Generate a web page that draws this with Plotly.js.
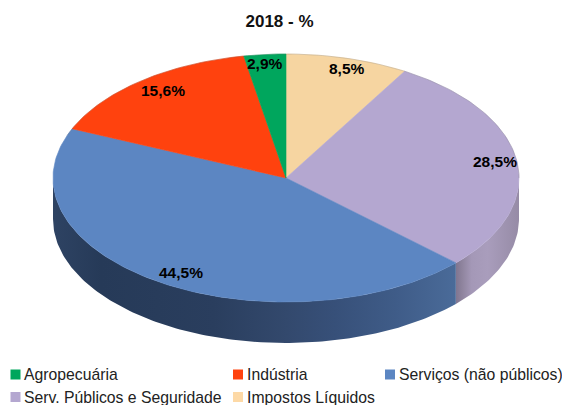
<!DOCTYPE html>
<html lang="pt">
<head>
<meta charset="utf-8">
<script src="https://cdn.plot.ly/plotly-3.0.1.min.js"></script>
<style>html,body{margin:0;padding:0;background:#fff}#chart{width:562px;height:405px}</style>
</head>
<body>
<div id="chart"></div>
<script>
// Data, clockwise from the top of the pie
const categories = ['Impostos Líquidos', 'Serv. Públicos e Seguridade', 'Serviços (não públicos)', 'Indústria', 'Agropecuária'];
const shares = [8.5, 28.5, 44.5, 15.6, 2.9];
const shareLabels = ['8,5%', '28,5%', '44,5%', '15,6%', '2,9%'];
const sliceColors = ['#f6d5a1', '#b4a7d0', '#5c86c2', '#ff420e', '#00a65d'];
const labelX = [347, 495, 181, 163, 265];
const labelY = [68, 161, 272, 90, 63];

// Legend reading order
const legendNames = ['Agropecuária', 'Indústria', 'Serviços (não públicos)', 'Serv. Públicos e Seguridade', 'Impostos Líquidos'];
const legendColors = ['#00a65d', '#ff420e', '#5c86c2', '#b4a7d0', '#fdd9a6'];
const legendX = [15.5, 238, 390, 15.5, 238];
const legendY = [374.5, 374.5, 374.5, 397, 397];

// Pie geometry, in pixel-scaled axis units
const cx = 286, cy = 178, rx = 233, ry = 124, depth = 41;
const pt = deg => {
  const t = deg * Math.PI / 180;
  return [cx + rx * Math.sin(t), cy - ry * Math.cos(t)];
};
function arc(a0, a1, dy) {
  const xs = [], ys = [];
  const n = Math.max(2, Math.ceil(Math.abs(a1 - a0)));
  for (let i = 0; i <= n; i++) {
    const p = pt(a0 + (a1 - a0) * i / n);
    xs.push(p[0]); ys.push(p[1] + dy);
  }
  return [xs, ys];
}

const edges = [0];
shares.forEach(v => edges.push(edges[edges.length - 1] + v * 3.6));

function wall(name, a0, a1, scale) {
  const top = arc(a0, a1, 0), bot = arc(a1, a0, depth);
  return {
    type: 'scatter', mode: 'lines', name, showlegend: false, hoverinfo: 'skip',
    x: top[0].concat(bot[0]), y: top[1].concat(bot[1]),
    fill: 'toself', line: {width: 0},
    fillcolor: scale[0][1],
    fillgradient: {type: 'horizontal', colorscale: scale}
  };
}

const traces = [
  wall('Serv. Públicos e Seguridade (lateral)', 90, edges[2], [
    [0, '#7f7590'], [0.1, '#8f849e'], [0.25, '#a498b7'], [0.5, '#a99dbc'], [1, '#968ba6']
  ]),
  wall('Serviços (lateral)', edges[2], 270, [
    [0, '#2e4363'], [0.12, '#263a58'], [0.4, '#2a3e5e'], [0.58, '#33496d'], [0.7, '#375079'], [0.85, '#3f5c88'], [1, '#4a6b99']
  ])
];

shares.forEach((v, i) => {
  const a = arc(edges[i], edges[i + 1], 0);
  traces.push({
    type: 'scatter', mode: 'lines', name: categories[i], showlegend: false,
    x: [cx].concat(a[0], [cx]), y: [cy].concat(a[1], [cy]),
    fill: 'toself', fillcolor: sliceColors[i],
    line: {color: sliceColors[i], width: 0.6},
    text: shareLabels[i], hoverinfo: 'name+text'
  });
});

const rim = arc(290, 450, 0);
traces.push({
  type: 'scatter', mode: 'lines', name: 'Borda', showlegend: false, hoverinfo: 'skip',
  x: rim[0], y: rim[1], line: {color: 'rgba(110,110,110,0.35)', width: 0.7}
});

traces.push({
  type: 'scatter', mode: 'markers', name: 'Legenda', showlegend: false, hoverinfo: 'skip',
  x: legendX, y: legendY, cliponaxis: false,
  marker: {symbol: 'square', size: 10, color: legendColors, line: {width: 0}}
});

const annotations = shareLabels.map((t, i) => ({
  text: '<b>' + t + '</b>', x: labelX[i], y: labelY[i], xref: 'x', yref: 'y', showarrow: false,
  xanchor: 'center', yanchor: 'middle',
  font: {family: 'Liberation Sans', size: 15.5, color: '#000'}
}));

legendNames.forEach((t, i) => annotations.push({
  text: t, x: legendX[i] + 8.5, y: legendY[i], xref: 'x', yref: 'y', showarrow: false,
  xanchor: 'left', yanchor: 'middle', borderpad: 0, borderwidth: 0,
  font: {family: 'Liberation Sans', size: 15.75, color: '#222'}
}));

const layout = {
  width: 562, height: 405,
  margin: {l: 0, r: 0, t: 0, b: 0},
  paper_bgcolor: '#fff', plot_bgcolor: '#fff',
  showlegend: false,
  title: {text: '<b>2018 - %</b>', x: 279.5 / 562, xanchor: 'center', y: 1 - 21 / 405, yanchor: 'middle',
          font: {family: 'Liberation Sans', size: 17, color: '#111'}},
  xaxis: {range: [0, 562], visible: false, fixedrange: true},
  yaxis: {range: [405, 0], visible: false, fixedrange: true},
  annotations
};

Plotly.newPlot('chart', traces, layout, {displayModeBar: false, responsive: false});
</script>
</body>
</html>
